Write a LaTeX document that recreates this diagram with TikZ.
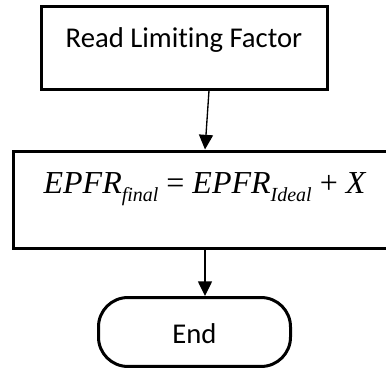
\documentclass[tikz,border=0pt]{standalone}
\usepackage{fontspec}
\setmainfont{Carlito}[Ligatures=NoCommon]
\newfontfamily\eqfont{Liberation Serif}
\usetikzlibrary{arrows.meta}
\tikzset{
  flowbox/.style={draw,line width=2.25pt,inner sep=0pt,font=\fontsize{21.5}{21.5}\selectfont},
  flowline/.style={line width=1pt,-{Triangle[length=11pt,width=10.5pt]}}
}
\newcommand{\subtxt}[1]{\raisebox{-0.28em}{\fontsize{15}{15}\selectfont #1}}
\begin{document}
\begin{tikzpicture}[x=0.75pt,y=-0.75pt]
  \useasboundingbox (0,0) rectangle (386,371);
  \node[flowbox,anchor=base,minimum width=214.5pt,text height=30.75pt,text depth=31.5pt]
    (read) at (184,47) {Read Limiting Factor};
  \node[flowbox,anchor=base,minimum width=287.6pt,text height=31.5pt,text depth=41.6pt,
    font=\eqfont\fontsize{24}{24}\selectfont]
    (calc) at (205,193) {\textit{EPFR\subtxt{final}} = \textit{EPFR\subtxt{Ideal}} + \textit{X}};
  \node[flowbox,anchor=base,minimum width=144pt,text height=34.1pt,text depth=17.6pt,
    rounded corners=22pt]
    (end) at (194.5,343) {End};
  \draw[flowline] ([xshift=18.75pt]read.south) -- (calc.north);
  \draw[flowline] (calc.south) -- (calc.south |- end.north);
\end{tikzpicture}
\end{document}
